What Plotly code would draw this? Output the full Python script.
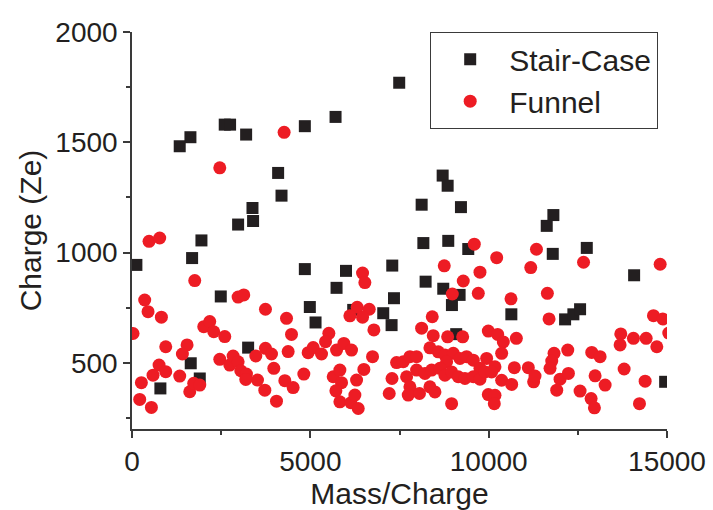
import plotly.graph_objects as go

stair_x = [123, 796, 1338, 1638, 1685, 1647, 1947, 1900, 2600, 2750, 3200, 2489, 2975, 3395, 3378,
           4097, 4192, 3256, 4846, 5707, 7492, 4846, 4986, 5146, 5735, 6000, 6202, 7044, 7297, 7345,
           7278, 8169, 8867, 9428, 8232, 8727, 9185, 8970, 10636, 9090, 8710, 8850, 8121, 9223,
           11814, 11628, 11797, 12751, 14078, 12143, 12375, 12563, 14948]
stair_y = [944, 384, 1482, 1523, 975, 498, 1055, 429, 1580, 1580, 1535, 801, 1127, 1143, 1202,
           1361, 1258, 569, 1573, 1615, 1770, 925, 753, 683, 840, 917, 740, 725, 941, 793,
           671, 1043, 1053, 1016, 868, 836, 808, 762, 720, 630, 1349, 1303, 1217, 1206,
           1170, 1121, 994, 1021, 897, 697, 720, 743, 414]

funnel_x = [478, 777, 1759, 356, 450, 824, 29, 2012, 2180, 2293, 2601, 2975, 3134, 3742, 4332, 4472,
            946, 1544, 1413, 759, 590, 946, 263, 1338, 216, 544, 1619, 1731, 1900, 2461, 2742, 2835,
            2975, 3050, 3209, 3190, 3471, 3742, 3911, 4378, 3518, 3724, 3976, 4285, 4518, 4051, 4818,
            4939, 5080, 5314, 5519, 5426, 5735, 5940, 6155, 5641, 5828, 5875, 5716, 5828, 6137, 6249,
            6343, 6296, 6501, 6744, 6782, 6314, 6651, 6109, 6464, 6464, 6529, 7212, 7290, 7418, 7605,
            7792, 7979, 7699, 7792, 7745, 8060, 8120, 4265, 2461,
            9597, 10225, 8755, 9756, 9288, 8980, 9709, 10626, 11180, 11340, 8418, 8446, 8850, 9271,
            9990, 10253, 10410, 10776, 8353, 11646, 11693, 12660, 14808,
            8587, 8774, 9008, 9195, 9382, 9569, 8821, 9943, 10177, 10364, 9756,
            7979, 8213, 8400, 8634, 8774, 8961, 9148, 9335, 9569, 9756, 9896, 10084,
            8493, 8353, 9990, 10177, 10158, 8961, 10364, 10645, 10720, 11112, 11260,
            14621, 14883, 13704, 13685, 14059, 14415, 14714, 15050,
            11833, 11768, 11721, 12217, 12890, 13124, 11300, 12002, 12236, 11908, 12984, 13265,
            13798, 14387, 12563, 12872, 12965, 14228]
funnel_y = [1051, 1066, 873, 785, 732, 707, 633, 664, 687, 641, 619, 798, 808, 743, 702, 629,
            573, 581, 540, 490, 444, 460, 410, 440, 334, 298, 369, 407, 399, 516, 490, 531,
            505, 464, 449, 425, 531, 566, 540, 551, 422, 376, 475, 419, 388, 326, 449,
            546, 569, 540, 634, 596, 558, 588, 558, 437, 467, 410, 373, 323, 319, 354,
            293, 422, 470, 528, 649, 752, 743, 713, 707, 907, 864, 361, 429, 501, 505,
            528, 528, 437, 391, 354, 361, 657, 1545, 1384,
            1038, 977, 940, 911, 871, 812, 815, 790, 932, 1015, 709, 623, 618, 618,
            644, 629, 595, 611, 568, 815, 699, 956, 947,
            550, 535, 543, 520, 528, 512, 505, 520, 482, 543, 475,
            467, 452, 467, 475, 444, 459, 437, 429, 437, 426, 459, 459,
            368, 391, 356, 353, 315, 315, 421, 402, 478, 478, 414,
            714, 699, 631, 581, 611, 611, 573, 635,
            543, 508, 475, 558, 547, 528, 440, 426, 452, 376, 441, 399,
            472, 417, 372, 338, 296, 315]

x_ticks = [0, 5000, 10000, 15000]
y_ticks = [500, 1000, 1500, 2000]

BLACK = "#231f20"
RED = "#ed1c24"
AX = "#3a3a3a"
FONT = "Liberation Sans, Arial, sans-serif"

fig = go.Figure()
fig.add_trace(go.Scatter(x=stair_x, y=stair_y, mode="markers", name="Stair-Case",
                         marker=dict(symbol="square", size=12, color=BLACK, line=dict(width=0))))
fig.add_trace(go.Scatter(x=funnel_x, y=funnel_y, mode="markers", name="Funnel",
                         marker=dict(symbol="circle", size=13, color=RED, line=dict(width=0))))

axis_common = dict(showgrid=False, zeroline=False, showline=True, linecolor=AX, linewidth=1.5,
                   ticks="outside", ticklen=7, tickwidth=1.5, tickcolor=AX,
                   tickfont=dict(family=FONT, size=28, color=BLACK),
                   mirror=False, automargin=False)

fig.update_xaxes(range=[0, 15000], tickvals=x_ticks, ticktext=[str(v) for v in x_ticks],
                 minor=dict(dtick=2500, ticks="outside", ticklen=4, tickwidth=1.5, tickcolor=AX, tick0=0),
                 title=dict(text="Mass/Charge", font=dict(family=FONT, size=30, color=BLACK), standoff=4),
                 **axis_common)
fig.update_yaxes(range=[200, 2000], tickvals=y_ticks, ticktext=[str(v) for v in y_ticks],
                 minor=dict(dtick=250, tick0=0, ticks="outside", ticklen=4, tickwidth=1.5, tickcolor=AX),
                 title=dict(text="Charge (Ze)", font=dict(family=FONT, size=30, color=BLACK), standoff=5),
                 **axis_common)

fig.update_layout(
    width=713, height=510,
    margin=dict(l=132, r=46, t=32, b=81, autoexpand=False),
    plot_bgcolor="white", paper_bgcolor="white",
    font=dict(family=FONT, color=BLACK),
    legend=dict(x=0.557, y=1.0, xanchor="left", yanchor="top",
                bordercolor=AX, borderwidth=1.2, bgcolor="white",
                font=dict(family=FONT, size=30, color=BLACK),
                itemwidth=68, tracegroupgap=0, entrywidth=232, entrywidthmode="pixels"),
    showlegend=True,
)

fig.write_html("out.html", config={"displayModeBar": False},
               post_script="document.body.style.margin='0';document.body.style.padding='0';")
